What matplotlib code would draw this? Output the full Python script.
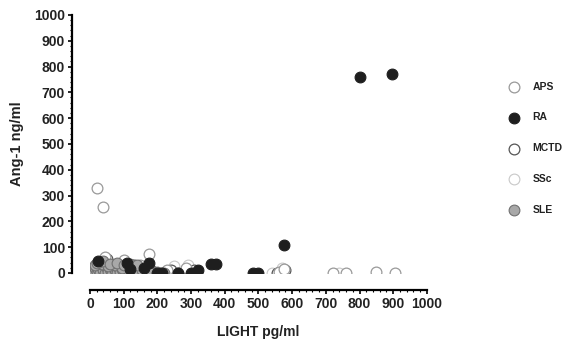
import matplotlib.pyplot as plt
from matplotlib.ticker import MultipleLocator

plt.rcParams['font.family'] = ['Liberation Sans', 'DejaVu Sans']

# values
aps_x = [20, 40, 45, 175, 100, 285, 560, 575, 720, 760, 850, 905, 150, 60, 230]
aps_y = [330, 255, 60, 75, 50, 20, 5, 15, 0, 0, 5, 0, 30, 10, 10]

ra_x = [800, 895, 575, 360, 375, 485, 500, 300, 320, 260, 200, 215, 175, 110, 25,
        120, 160]
ra_y = [760, 770, 110, 35, 35, 0, 0, 0, 12, 0, 0, 0, 40, 40, 45,
        15, 20]

mctd_x = [30, 50, 90, 130, 170, 240, 260, 310, 580, 555, 10, 70]
mctd_y = [20, 55, 10, 30, 0, 10, 0, 10, 10, 0, 0, 5]

ssc_x = [15, 60, 100, 150, 250, 290, 540, 570, 740]
ssc_y = [5, 0, 20, 10, 25, 30, 0, 20, 0]

sle_x = [5, 10, 15, 20, 25, 30, 35, 40, 45, 50, 55, 60, 65, 70, 75, 80, 85, 90, 95, 100,
         105, 110, 115, 120, 125, 130, 140, 150, 160, 170, 180, 190, 200, 210, 220,
         15, 35, 55, 75, 95, 115, 135, 155, 175, 20, 40, 60, 80, 100, 120, 140]
sle_y = [0, 10, 20, 5, 15, 0, 25, 10, 0, 20, 5, 15, 0, 30, 10, 0, 20, 5, 15, 0,
         25, 10, 0, 20, 5, 15, 0, 10, 5, 0, 10, 0, 5, 0, 0,
         30, 35, 25, 30, 20, 25, 15, 10, 5, 40, 45, 35, 40, 30, 35, 30]

fig = plt.figure(figsize=(5.73, 3.39), dpi=100)
ax = fig.add_axes([0.157, 0.195, 0.588, 0.761])

s = 60
ax.scatter(ssc_x, ssc_y, s=s, facecolor='white', edgecolor='#c8c8c8', lw=0.8, label='SSc', zorder=2)
ax.scatter(mctd_x, mctd_y, s=s, facecolor='white', edgecolor='#555555', lw=0.9, label='MCTD', zorder=2)
ax.scatter(aps_x, aps_y, s=s, facecolor='white', edgecolor='#999999', lw=0.9, label='APS', zorder=2)
ax.scatter(sle_x, sle_y, s=s, facecolor='#a8a8a8', edgecolor='#707070', lw=0.8, label='SLE', zorder=3)
ax.scatter(ra_x, ra_y, s=s, facecolor='#1e1e1e', edgecolor='#1e1e1e', lw=0.8, label='RA', zorder=4)

ax.set_xlim(0, 1000)
ax.set_ylim(0, 1000)

for side in ['top', 'right']:
    ax.spines[side].set_visible(False)
ax.spines['left'].set_position(('outward', 13))
ax.spines['bottom'].set_position(('outward', 12.5))
ax.spines['left'].set_linewidth(1.6)
ax.spines['bottom'].set_linewidth(1.6)

ax.xaxis.set_major_locator(MultipleLocator(100))
ax.yaxis.set_major_locator(MultipleLocator(100))
ax.xaxis.set_minor_locator(MultipleLocator(20))
ax.yaxis.set_minor_locator(MultipleLocator(20))
ax.tick_params(axis='both', which='major', length=3, width=1.2, labelsize=10, pad=2)
ax.tick_params(axis='both', which='minor', length=1.5, width=0.8)
for lab in ax.get_xticklabels() + ax.get_yticklabels():
    lab.set_fontweight('bold')
    lab.set_color('#222222')

ax.set_xlabel('LIGHT pg/ml', fontsize=10, fontweight='bold', color='#222222', labelpad=10)
ax.set_ylabel('Ang-1 ng/ml', fontsize=10.5, fontweight='bold', color='#222222', labelpad=7)

handles, labels = ax.get_legend_handles_labels()
order = ['APS', 'RA', 'MCTD', 'SSc', 'SLE']
hmap = dict(zip(labels, handles))
leg = fig.legend([hmap[k] for k in order], order, loc='upper left',
                 bbox_to_anchor=(0.862, 0.787), frameon=False,
                 labelspacing=2.0, handletextpad=0.8, fontsize=7.5, scatterpoints=1)
for t in leg.get_texts():
    t.set_fontweight('bold')
    t.set_color('#222222')

fig.savefig('out.png', dpi=100)
